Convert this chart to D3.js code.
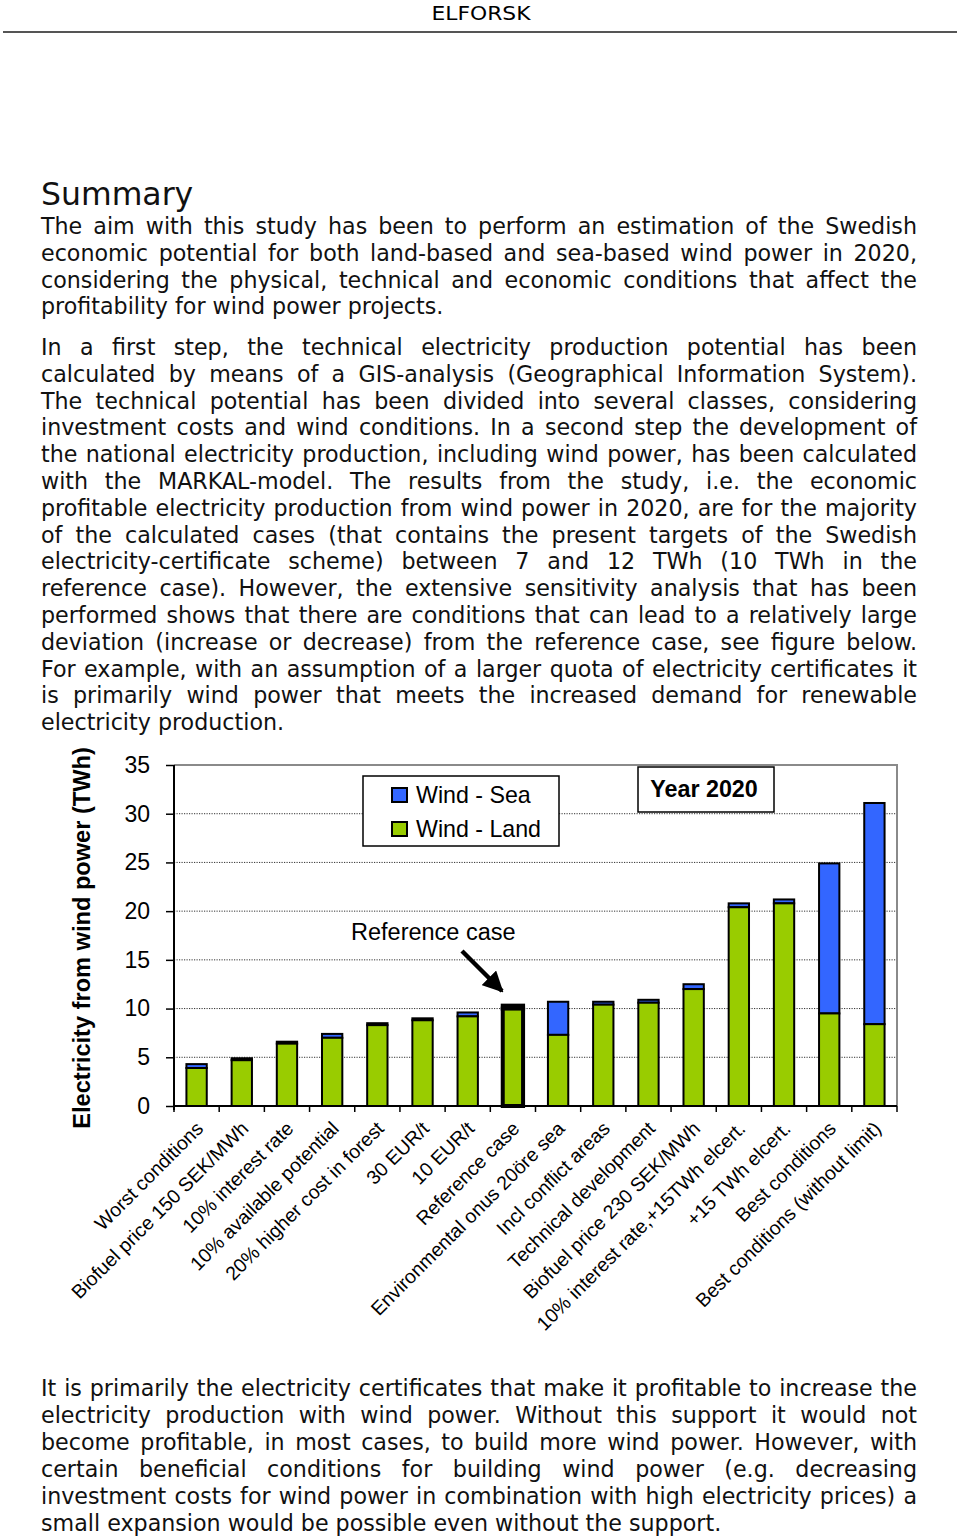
<!DOCTYPE html>
<html><head><meta charset="utf-8">
<script src="https://cdn.jsdelivr.net/npm/d3@7"></script>
<style>body{margin:0;background:#fff}svg{display:block}</style>
</head><body>
<svg id="page" width="960" height="1537"></svg>
<script>
// ---------- DATA ----------
const categories = ["Worst conditions","Biofuel price 150 SEK/MWh","10% interest rate","10% available potential","20% higher cost in forest","30 EUR/t","10 EUR/t","Reference case","Environmental onus 20öre sea","Incl conflict areas","Technical development","Biofuel price 230 SEK/MWh","10% interest rate,+15TWh elcert.","+15 TWh elcert.","Best conditions","Best conditions (without limit)"];
const windLand = [3.9, 4.7, 6.4, 7.0, 8.3, 8.8, 9.2, 10.0, 7.3, 10.4, 10.6, 12.0, 20.4, 20.8, 9.5, 8.4];
const windSea  = [0.4, 0.2, 0.2, 0.4, 0.2, 0.2, 0.4, 0.3, 3.4, 0.3, 0.3, 0.5, 0.4, 0.4, 15.4, 22.7];
const yTicks = [0, 5, 10, 15, 20, 25, 30, 35];
const seriesNames = ["Wind - Sea", "Wind - Land"];
const referenceCategory = "Reference case";

const para1 = [
"The aim with this study has been to perform an estimation of the Swedish",
"economic potential for both land-based and sea-based wind power in 2020,",
"considering the physical, technical and economic conditions that affect the",
"profitability for wind power projects."];
const para2 = [
"In a first step, the technical electricity production potential has been",
"calculated by means of a GIS-analysis (Geographical Information System).",
"The technical potential has been divided into several classes, considering",
"investment costs and wind conditions. In a second step the development of",
"the national electricity production, including wind power, has been calculated",
"with the MARKAL-model. The results from the study, i.e. the economic",
"profitable electricity production from wind power in 2020, are for the majority",
"of the calculated cases (that contains the present targets of the Swedish",
"electricity-certificate scheme) between 7 and 12 TWh (10 TWh in the",
"reference case). However, the extensive sensitivity analysis that has been",
"performed shows that there are conditions that can lead to a relatively large",
"deviation (increase or decrease) from the reference case, see figure below.",
"For example, with an assumption of a larger quota of electricity certificates it",
"is primarily wind power that meets the increased demand for renewable",
"electricity production."];
const para3 = [
"It is primarily the electricity certificates that make it profitable to increase the",
"electricity production with wind power. Without this support it would not",
"become profitable, in most cases, to build more wind power. However, with",
"certain beneficial conditions for building wind power (e.g. decreasing",
"investment costs for wind power in combination with high electricity prices) a",
"small expansion would be possible even without the support."];

// ---------- PAGE ----------
const svg = d3.select("#page");
const bodyFont = "'DejaVu Sans', Verdana, sans-serif";
const chartFont = "'Liberation Sans', Arial, sans-serif";

svg.append("text").attr("x", 481).attr("y", 20).attr("text-anchor", "middle")
  .attr("font-family", bodyFont).attr("font-size", 20).attr("textLength", 99)
  .attr("lengthAdjust", "spacingAndGlyphs").text("ELFORSK");
svg.append("line").attr("x1", 3).attr("x2", 957).attr("y1", 32).attr("y2", 32)
  .attr("stroke", "#555").attr("stroke-width", 2);

svg.append("text").attr("x", 41).attr("y", 205).attr("font-family", bodyFont)
  .attr("font-size", 31.5).attr("fill", "#111").text("Summary");

const textX0 = 41, textX1 = 917, fs = 22.2;
const measurer = svg.append("text").attr("font-family", bodyFont).attr("font-size", fs).attr("visibility", "hidden");
function measure(s) { measurer.text(s); return measurer.node().getComputedTextLength(); }
const spaceW = measure("a a") - measure("aa");

function paragraph(lines, y0, dy) {
  lines.forEach((line, i) => {
    const words = line.split(" ");
    const widths = words.map(measure);
    const last = i === lines.length - 1;
    const total = d3.sum(widths);
    const gap = last ? spaceW : (textX1 - textX0 - total) / Math.max(1, words.length - 1);
    let x = textX0;
    const t = svg.append("text").attr("font-family", bodyFont).attr("font-size", fs)
      .attr("fill", "#111").attr("y", y0 + i * dy);
    words.forEach((w, j) => {
      t.append("tspan").attr("x", x).text(w);
      x += widths[j] + gap;
    });
  });
}
paragraph(para1, 234, 26.8);
paragraph(para2, 355, 26.8);
paragraph(para3, 1396, 26.9);
measurer.remove();

// ---------- CHART ----------
const plot = {left: 174, right: 897, top: 765, bottom: 1106};
const x = d3.scaleBand().domain(categories).range([plot.left, plot.right])
  .paddingInner(0.55).paddingOuter(0.275);
const y = d3.scaleLinear().domain([0, 35]).range([plot.bottom, plot.top]);
const colors = {land: "#99CC00", sea: "#3366FF"};

const chart = svg.append("g");

// gridlines
chart.append("g").selectAll("line").data(yTicks.filter(d => d > 0 && d < 35)).join("line")
  .attr("x1", plot.left).attr("x2", plot.right)
  .attr("y1", d => y(d)).attr("y2", d => y(d))
  .attr("stroke", "#333").attr("stroke-width", 1).attr("stroke-dasharray", "1.2,1.3");

// plot border (top/right)
chart.append("path")
  .attr("d", `M${plot.left},${y(35)}H${plot.right}V${plot.bottom}`)
  .attr("fill", "none").attr("stroke", "#8a8a8a").attr("stroke-width", 2);

// legend
const leg = chart.append("g");
leg.append("rect").attr("x", 363).attr("y", 776).attr("width", 196).attr("height", 70)
  .attr("fill", "#fff").attr("stroke", "#000").attr("stroke-width", 1.5);
[{n: seriesNames[0], c: colors.sea, yy: 795}, {n: seriesNames[1], c: colors.land, yy: 829}].forEach(d => {
  leg.append("rect").attr("x", 392).attr("y", d.yy - 7).attr("width", 15).attr("height", 14)
    .attr("fill", d.c).attr("stroke", "#000").attr("stroke-width", 2);
  leg.append("text").attr("x", 416).attr("y", d.yy).attr("dy", "0.36em")
    .attr("font-family", chartFont).attr("font-size", 23.2).text(d.n);
});

// Year box
chart.append("rect").attr("x", 638).attr("y", 767).attr("width", 136).attr("height", 45)
  .attr("fill", "#fff").attr("stroke", "#000").attr("stroke-width", 1.5);
chart.append("text").attr("x", 704).attr("y", 789).attr("dy", "0.36em").attr("text-anchor", "middle")
  .attr("font-family", chartFont).attr("font-size", 23.3).attr("font-weight", "bold").text("Year 2020");

// reference annotation
chart.append("text").attr("x", 351).attr("y", 940).attr("font-family", chartFont)
  .attr("font-size", 23.5).text("Reference case");
chart.append("defs").append("marker").attr("id", "ah").attr("viewBox", "0 0 10 10")
  .attr("refX", 9).attr("refY", 5).attr("markerWidth", 4.6).attr("markerHeight", 4.6)
  .attr("orient", "auto").attr("markerUnits", "strokeWidth")
  .append("path").attr("d", "M0,0L10,5L0,10z").attr("fill", "#000");
chart.append("line").attr("x1", 462).attr("y1", 951).attr("x2", 502).attr("y2", 991)
  .attr("stroke", "#000").attr("stroke-width", 4.5).attr("marker-end", "url(#ah)");

// bars
const barData = categories.map((c, i) => ({c, land: windLand[i], sea: windSea[i]}));
const bars = chart.append("g").selectAll("g").data(barData).join("g");
bars.append("rect")
  .attr("x", d => x(d.c)).attr("width", x.bandwidth())
  .attr("y", d => y(d.land + d.sea)).attr("height", d => y(d.land) - y(d.land + d.sea))
  .attr("fill", colors.sea).attr("stroke", "#000")
  .attr("stroke-width", d => d.c === referenceCategory ? 4 : 2);
bars.append("rect")
  .attr("x", d => x(d.c)).attr("width", x.bandwidth())
  .attr("y", d => y(d.land)).attr("height", d => y(0) - y(d.land))
  .attr("fill", colors.land).attr("stroke", "#000")
  .attr("stroke-width", d => d.c === referenceCategory ? 4 : 2);

// y axis
const yAxis = chart.append("g").attr("transform", `translate(${plot.left},0)`)
  .call(d3.axisLeft(y).tickValues(yTicks).tickSize(8).tickPadding(16));
yAxis.select(".domain").attr("stroke", "#000").attr("stroke-width", 2)
  .attr("d", `M0,${plot.top}V${plot.bottom + 4}`);
yAxis.selectAll(".tick line").attr("stroke", "#000").attr("stroke-width", 1.5);
yAxis.selectAll(".tick text").attr("font-family", chartFont).attr("font-size", 23).attr("fill", "#000");

// x axis line + ticks at category boundaries
chart.append("line").attr("x1", plot.left).attr("x2", plot.right)
  .attr("y1", plot.bottom).attr("y2", plot.bottom).attr("stroke", "#000").attr("stroke-width", 2);
const bounds = d3.range(categories.length + 1).map(i => plot.left + i * x.step());
chart.append("g").selectAll("line").data(bounds).join("line")
  .attr("x1", d => d).attr("x2", d => d).attr("y1", plot.bottom).attr("y2", plot.bottom + 6)
  .attr("stroke", "#000").attr("stroke-width", 1.5);

// x labels
chart.append("g").selectAll("text").data(categories).join("text")
  .attr("transform", d => `translate(${x(d) + x.bandwidth() / 2 + 3},${plot.bottom + 19}) rotate(-45)`)
  .attr("text-anchor", "end").attr("dy", "0.35em")
  .attr("font-family", chartFont).attr("font-size", 19.5).text(d => d);

// y title
chart.append("text").attr("transform", `translate(90,938) rotate(-90)`)
  .attr("text-anchor", "middle").attr("font-family", chartFont).attr("font-size", 23.6)
  .attr("font-weight", "bold").text("Electricity from wind power (TWh)");
</script>
</body></html>
